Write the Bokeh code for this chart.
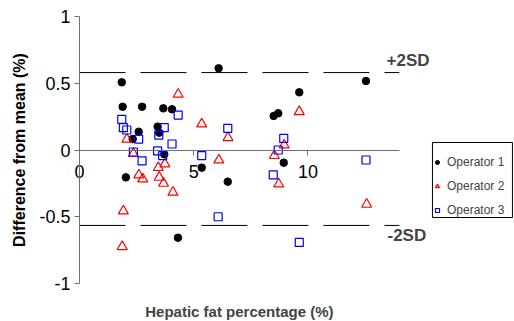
from bokeh.plotting import figure
from bokeh.models import Label, Legend, LegendItem, FixedTicker
from bokeh.embed import file_html
from bokeh.resources import INLINE

# ---- data ----
x_op1 = [1.85, 1.89, 2.03, 2.33, 2.59, 2.74, 3.42, 3.49, 3.67, 3.71, 4.05, 4.31, 5.35, 6.09, 6.49, 8.50, 8.70, 8.94, 9.62, 12.54]
y_op1 = [0.507, 0.324, -0.205, 0.082, 0.137, 0.324, 0.175, 0.13, 0.312, -0.032, 0.305, -0.657, -0.132, 0.612, -0.237, 0.255, 0.275, -0.095, 0.432, 0.517]

x_op2 = [1.87, 1.92, 2.07, 2.36, 2.60, 2.77, 3.45, 3.49, 3.68, 3.74, 4.09, 4.32, 5.35, 6.10, 6.50, 8.53, 8.72, 8.96, 9.62, 12.57]
y_op2 = [-0.724, -0.457, 0.08, -0.027, -0.187, -0.217, -0.132, -0.205, -0.25, -0.105, -0.317, 0.417, 0.195, -0.075, 0.092, -0.042, -0.255, 0.037, 0.287, -0.407]

x_op3 = [1.85, 1.92, 2.07, 2.36, 2.59, 2.74, 3.42, 3.47, 3.64, 3.71, 4.05, 4.32, 5.35, 6.07, 6.49, 8.48, 8.70, 8.94, 9.62, 12.54]
y_op3 = [0.23, 0.167, 0.15, -0.015, 0.082, -0.082, -0.007, 0.112, -0.042, 0.167, 0.045, 0.262, -0.042, -0.5, 0.162, -0.187, 0.0, 0.087, -0.692, -0.075]

upper_sd = 0.58
lower_sd = -0.565
x_extent = [0, 14]
y_extent = [-1, 1]

series_names = ["Operator 1", "Operator 2", "Operator 3"]
x_ticks = [0, 5, 10]
x_tick_labels = ["0", "5", "10"]
y_ticks = [-1, -0.5, 0, 0.5, 1]
y_tick_labels = ["-1", "-0.5", "0", "0.5", "1"]
x_title = "Hepatic fat percentage (%)"
y_title = "Difference from mean (%)"

FONT = "Liberation Sans"
AXIS_COL = "#707070"

# frame covers the whole canvas; axes are pinned at x=0 / y=0
p = figure(width=514, height=321, x_range=(-3.457, 19.04), y_range=(-1.2846, 1.1199),
           output_backend="svg", toolbar_location=None,
           min_border_left=0, min_border_right=0, min_border_top=0, min_border_bottom=0)
p.outline_line_color = None
p.grid.visible = False
p.background_fill_color = "white"
p.border_fill_color = "white"

p.xaxis.fixed_location = 0
p.xaxis.bounds = tuple(x_extent)
p.xaxis.ticker = FixedTicker(ticks=x_ticks)
p.xaxis.major_label_overrides = {t: l for t, l in zip(x_ticks, x_tick_labels)}
p.xaxis.axis_line_color = AXIS_COL
p.xaxis.major_tick_line_color = AXIS_COL
p.xaxis.major_tick_in = 0
p.xaxis.major_tick_out = 5
p.xaxis.minor_tick_line_color = None
p.xaxis.major_label_text_font = FONT
p.xaxis.major_label_text_font_size = "18px"
p.xaxis.major_label_text_color = "black"
p.xaxis.major_label_standoff = 10

p.yaxis.fixed_location = 0
p.yaxis.bounds = tuple(y_extent)
p.yaxis.ticker = FixedTicker(ticks=y_ticks)
p.yaxis.major_label_overrides = {t: l for t, l in zip(y_ticks, y_tick_labels)}
p.yaxis.axis_line_color = AXIS_COL
p.yaxis.major_tick_line_color = AXIS_COL
p.yaxis.major_tick_in = 0
p.yaxis.major_tick_out = 5
p.yaxis.minor_tick_line_color = None
p.yaxis.major_label_text_font = FONT
p.yaxis.major_label_text_font_size = "18px"
p.yaxis.major_label_text_color = "black"
p.yaxis.major_label_standoff = 4
p.yaxis.axis_label = y_title
p.yaxis.axis_label_text_font = FONT
p.yaxis.axis_label_text_font_size = "16px"
p.yaxis.axis_label_text_font_style = "bold"
p.yaxis.axis_label_text_color = "black"
p.yaxis.axis_label_standoff = 8

# +/- 2SD lines
for loc in (upper_sd, lower_sd):
    p.line(x_extent, [loc, loc], line_color="black", line_width=1, line_dash="46 15")

# legend frame, drawn as a plain box behind a transparent legend
p.quad(left=[15.449], right=[18.95], top=[0.0562], bottom=[-0.5056],
       fill_color="white", line_color="black", line_width=1)

r1 = p.scatter(x_op1, y_op1, marker="circle", size=7.5, fill_color="black", line_color="black")
r2 = p.scatter(x_op2, y_op2, marker="triangle", size=10, fill_color=None, line_color="red", line_width=1.2)
r3 = p.scatter(x_op3, y_op3, marker="square", size=8, fill_color=None, line_color="blue", line_width=1.2)

p.add_layout(Label(x=13.44, y=upper_sd + 0.09, text="+2SD", text_font=FONT, text_font_size="17px",
                   text_font_style="bold", text_baseline="middle", text_align="left"))
p.add_layout(Label(x=13.48, y=lower_sd - 0.075, text="-2SD", text_font=FONT, text_font_size="17px",
                   text_font_style="bold", text_baseline="middle", text_align="left"))
p.add_layout(Label(x=7.0, y=-1.21, text=x_title, text_font=FONT, text_font_size="15px",
                   text_font_style="bold", text_baseline="middle", text_align="center"))

legend = Legend(items=[LegendItem(label=series_names[0], renderers=[r1]),
                       LegendItem(label=series_names[1], renderers=[r2]),
                       LegendItem(label=series_names[2], renderers=[r3])],
                location=(432, 102), orientation="vertical",
                border_line_color=None,
                background_fill_alpha=0,
                label_text_font=FONT, label_text_font_size="12px",
                glyph_width=10, glyph_height=18, label_height=18, spacing=6,
                padding=4, label_standoff=5, margin=0)
p.add_layout(legend, "center")

open("out.html", "w").write(file_html(p, INLINE))
